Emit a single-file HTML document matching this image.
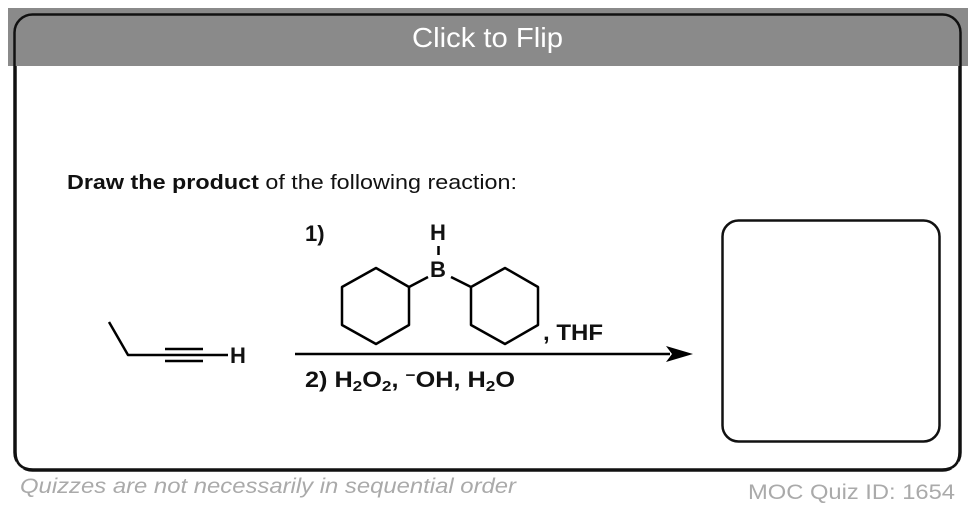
<!DOCTYPE html>
<html><head><meta charset="utf-8"><style>
html,body{margin:0;padding:0;background:#fff;}
svg{display:block;}
text{font-family:"Liberation Sans",Arial,sans-serif;}
</style></head><body>
<svg width="976" height="512" viewBox="0 0 976 512" xmlns="http://www.w3.org/2000/svg">
<rect x="8" y="8" width="960" height="58" fill="#8a8a8a"/>
<rect x="14.5" y="14.5" width="946" height="456" rx="18" fill="none" stroke="#111" stroke-width="2.5"/>
<rect x="16" y="66" width="943" height="403" fill="#fff"/>
<path d="M15.5 66 V452 Q15.5 469.5 33 469.5 H942 Q959.5 469.5 959.5 452 V66" fill="none" stroke="#111" stroke-width="2.5"/>
<text x="412" y="47" font-size="28" fill="#fff" textLength="151" lengthAdjust="spacingAndGlyphs">Click to Flip</text>
<text x="67" y="189" font-size="20" fill="#111" textLength="450" lengthAdjust="spacingAndGlyphs"><tspan font-weight="bold">Draw the product</tspan> of the following reaction:</text>
<g stroke="#000" stroke-width="2.5" fill="none" stroke-linejoin="round">
<polyline points="109,322 128,355 205,355"/>
<line x1="165" y1="349" x2="203" y2="349"/>
<line x1="165" y1="361" x2="203" y2="361"/>
<line x1="205" y1="355" x2="228" y2="355"/>
<polygon points="342,287 376,268 409,287 409,325 376,344 342,325"/>
<polygon points="471,287 505,268 538,287 538,325 505,344 471,325"/>
<line x1="409" y1="287" x2="428" y2="277"/>
<line x1="451" y1="277" x2="471" y2="287"/>
<line x1="438.5" y1="246" x2="438.5" y2="255"/>
<line x1="295" y1="354" x2="670" y2="354"/>
</g>
<polygon points="693,354 666,346 672,354 666,362" fill="#000"/>
<g font-weight="bold" font-size="22" fill="#111">
<text x="230" y="363">H</text>
<text x="430" y="240">H</text>
<text x="430" y="277">B</text>
<text x="305" y="241">1)</text>
<text x="543" y="340" textLength="60" lengthAdjust="spacingAndGlyphs">, THF</text>
<text x="305" y="387" textLength="210" lengthAdjust="spacingAndGlyphs">2)  H<tspan font-size="15" dy="4">2</tspan><tspan dy="-4">O</tspan><tspan font-size="15" dy="4">2</tspan><tspan dy="-4">, </tspan><tspan font-size="15" dy="-7">−</tspan><tspan dy="7">OH, H</tspan><tspan font-size="15" dy="4">2</tspan><tspan dy="-4">O</tspan></text>
</g>
<rect x="722.5" y="220.5" width="217" height="221" rx="16" fill="none" stroke="#111" stroke-width="2.5"/>
<text x="20" y="493" font-size="21" font-style="italic" fill="#aaa" textLength="496" lengthAdjust="spacingAndGlyphs">Quizzes are not necessarily in sequential order</text>
<text x="748" y="499" font-size="21" fill="#aaa" textLength="207" lengthAdjust="spacingAndGlyphs">MOC Quiz ID: 1654</text>
</svg>
</body></html>
